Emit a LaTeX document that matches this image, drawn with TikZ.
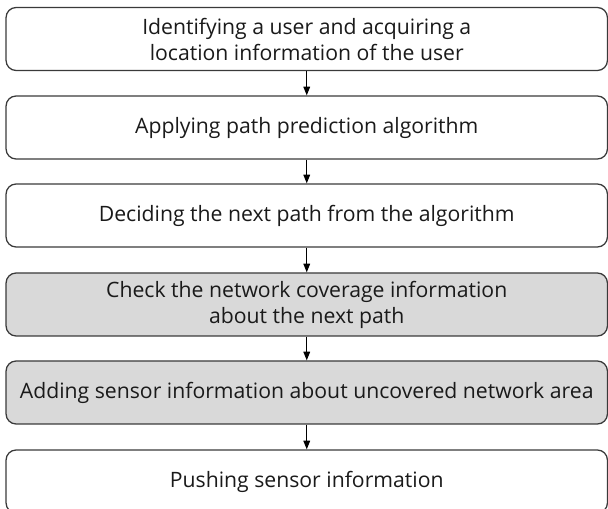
\documentclass[tikz,border=0pt]{standalone}
\usepackage{fontspec}
\setmainfont{Open Sans}
\usetikzlibrary{arrows.meta}
\definecolor{boxline}{HTML}{3A3A3A}
\definecolor{boxgrey}{HTML}{D9D9D9}
\definecolor{txt}{HTML}{1A1A1A}
\tikzset{
  stepbox/.style={draw=boxline, line width=0.95pt, rounded corners=7.5pt,
    minimum width=451pt, minimum height=47.25pt, inner sep=0pt, align=center,
    text=txt, font=\fontsize{15.9pt}{19.5pt}\selectfont},
  greybox/.style={stepbox, fill=boxgrey},
  flow/.style={draw=black, line width=0.8pt, -{Triangle[width=5pt,length=6.5pt]}}
}
\begin{document}
\begin{tikzpicture}[x=0.75pt,y=-0.75pt]
\useasboundingbox (0,0) rectangle (608,509);
\node[stepbox] (b1) at (306.75,39) {Identifying a user and acquiring a\\location information of the user};
\node[stepbox] (b2) at (306.75,127.5) {Applying path prediction algorithm};
\node[stepbox] (b3) at (306.75,215.5) {Deciding the next path from the algorithm};
\node[greybox] (b4) at (306.75,304.5) {Check the network coverage information\\about the next path};
\node[greybox] (b5) at (306.75,392.5) {Adding sensor information about uncovered network area};
\node[stepbox] (b6) at (306.75,481.5) {Pushing sensor information};
\draw[flow] (b1) -- (b2);
\draw[flow] (b2) -- (b3);
\draw[flow] (b3) -- (b4);
\draw[flow] (b4) -- (b5);
\draw[flow] (b5) -- (b6);
\end{tikzpicture}
\end{document}
